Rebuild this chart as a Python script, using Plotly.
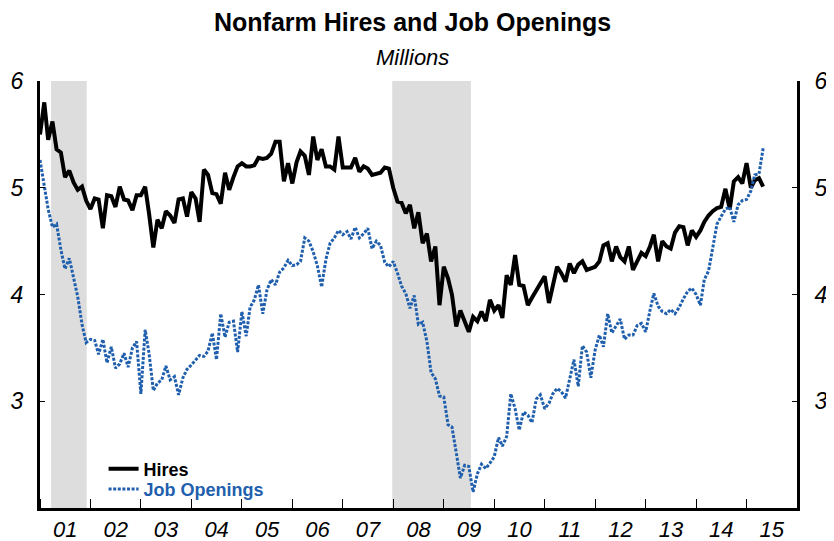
import pandas as pd
import plotly.graph_objects as go

start_month = "2001-01-01"
hires = [
    5.50, 5.80, 5.45, 5.62, 5.36, 5.33, 5.10, 5.16, 5.05, 4.98,
    5.01, 4.88, 4.80, 4.90, 4.89, 4.62, 4.93, 4.92, 4.82, 5.01,
    4.89, 4.88, 4.79, 4.93, 4.93, 5.01, 4.76, 4.44, 4.70, 4.62,
    4.78, 4.74, 4.67, 4.89, 4.90, 4.73, 4.96, 4.90, 4.68, 5.17,
    5.12, 4.95, 4.94, 4.85, 5.14, 4.98, 5.10, 5.20, 5.23, 5.20,
    5.20, 5.21, 5.28, 5.27, 5.28, 5.32, 5.43, 5.43, 5.06, 5.23,
    5.04, 5.24, 5.34, 5.30, 5.12, 5.48, 5.26, 5.36, 5.20, 5.20,
    5.17, 5.48, 5.19, 5.19, 5.19, 5.28, 5.15, 5.20, 5.18, 5.12,
    5.13, 5.14, 5.19, 5.18, 5.00, 4.87, 4.86, 4.76, 4.84, 4.62,
    4.77, 4.48, 4.57, 4.31, 4.45, 3.90, 4.26, 4.15, 4.00, 3.70,
    3.85, 3.75, 3.65, 3.79, 3.75, 3.84, 3.75, 3.95, 3.85, 3.90,
    3.78, 4.18, 4.09, 4.37, 4.09, 4.08, 3.90, 3.97, 4.04, 4.10,
    4.17, 3.92, 4.10, 4.26, 4.20, 4.12, 4.29, 4.20, 4.28, 4.31,
    4.23, 4.24, 4.26, 4.31, 4.46, 4.48, 4.31, 4.45, 4.35, 4.31,
    4.45, 4.23, 4.32, 4.39, 4.36, 4.45, 4.56, 4.31, 4.50, 4.45,
    4.43, 4.58, 4.64, 4.63, 4.46, 4.60, 4.54, 4.60, 4.68, 4.74,
    4.78, 4.81, 4.82, 4.99, 4.80, 5.06, 5.10, 5.04, 5.23, 5.00,
    5.07, 5.09, 5.01,
]
job_openings = [
    5.26, 5.00, 4.80, 4.63, 4.66, 4.42, 4.24, 4.34, 4.14, 3.98,
    3.72, 3.55, 3.58, 3.57, 3.44, 3.58, 3.36, 3.51, 3.31, 3.35,
    3.45, 3.32, 3.50, 3.56, 3.07, 3.67, 3.45, 3.10, 3.17, 3.20,
    3.33, 3.20, 3.23, 3.06, 3.22, 3.30, 3.34, 3.39, 3.43, 3.42,
    3.47, 3.64, 3.39, 3.82, 3.60, 3.74, 3.75, 3.46, 3.84, 3.61,
    3.88, 3.95, 4.09, 3.82, 4.04, 4.14, 4.09, 4.21, 4.25, 4.32,
    4.27, 4.28, 4.31, 4.53, 4.50, 4.40, 4.27, 4.07, 4.33, 4.48,
    4.53, 4.60, 4.56, 4.59, 4.52, 4.63, 4.53, 4.57, 4.62, 4.43,
    4.50, 4.46, 4.30, 4.26, 4.31, 4.20, 4.08, 4.01, 3.87, 3.99,
    3.72, 3.74, 3.56, 3.27, 3.21, 3.05, 3.04, 2.78, 2.76, 2.52,
    2.28, 2.40, 2.39, 2.15, 2.32, 2.41, 2.37, 2.42, 2.48, 2.66,
    2.58, 2.67, 3.07, 2.93, 2.73, 2.90, 2.87, 2.80, 3.02, 3.06,
    2.93, 2.98, 3.07, 3.12, 3.09, 3.03, 3.21, 3.39, 3.14, 3.52,
    3.46, 3.22, 3.48, 3.62, 3.51, 3.82, 3.64, 3.71, 3.77, 3.58,
    3.62, 3.62, 3.71, 3.73, 3.65, 3.85, 4.01, 3.89, 3.84, 3.82,
    3.86, 3.82, 3.88, 3.96, 4.03, 4.06, 4.00, 3.90, 4.14, 4.22,
    4.45, 4.66, 4.73, 4.80, 4.82, 4.68, 4.84, 4.88, 4.89, 4.97,
    5.12, 5.13, 5.37,
]
recession_starts = ["2001-03-22", "2007-12-25"]
recession_ends = ["2001-12-05", "2009-07-16"]
y_ticks = [3, 4, 5, 6]
x_range = ["2001-01-01", "2016-01-01"]
y_range = [2, 6]

dates = pd.date_range(start_month, periods=len(hires), freq="MS")

BLACK = "#000000"
BLUE = "#1f5fae"
FONT = "Liberation Sans, Arial, sans-serif"

fig = go.Figure()
fig.add_trace(go.Scatter(
    x=dates, y=hires, mode="lines", name="<b>Hires</b>",
    line=dict(color=BLACK, width=4), legend="legend", yaxis="y",
))
fig.add_trace(go.Scatter(
    x=dates, y=job_openings, mode="lines",
    name="<b><span style='color:%s'>Job Openings</span></b>" % BLUE,
    line=dict(color=BLUE, width=3, dash="3px,1.6px"), legend="legend2", yaxis="y2",
))

for s, e in zip(recession_starts, recession_ends):
    fig.add_shape(type="rect", xref="x", yref="paper", x0=s, x1=e, y0=0, y1=1,
                  fillcolor="#dcdddc", line_width=0, layer="below")

axis_font = dict(family=FONT, size=23, color="black", style="italic")
leg_font = dict(family=FONT, size=18, color="black")

# The page body adds an 8px offset, so the figure is drawn 8px smaller
fig.update_layout(
    width=826, height=533,
    margin=dict(l=32, r=37, t=73, b=33, autoexpand=False),
    paper_bgcolor="white", plot_bgcolor="white",
    font=dict(family=FONT, color="black"),
    showlegend=True,
    legend=dict(x=0.084, y=0.091, xanchor="left", yanchor="middle",
                bgcolor="rgba(0,0,0,0)", font=leg_font, itemwidth=30),
    legend2=dict(x=0.084, y=0.044, xanchor="left", yanchor="middle",
                 bgcolor="rgba(0,0,0,0)", font=leg_font, itemwidth=30),
    xaxis=dict(
        type="date", range=x_range, dtick="M12", tick0="2001-01-01",
        tickformat="%y", ticklabelmode="period", automargin=False,
        ticks="inside", ticklen=9, tickwidth=1.2, tickcolor="black",
        showline=True, linewidth=3, linecolor="black",
        showgrid=False, zeroline=False,
        tickfont=dict(family=FONT, size=22, color="black", style="italic"),
    ),
    yaxis=dict(
        range=y_range, tickvals=y_ticks, ticks="inside", ticklen=5,
        tickwidth=1.2, tickcolor="black", automargin=False,
        showline=True, linewidth=3, linecolor="black",
        showgrid=False, zeroline=False, tickfont=axis_font, ticklabelstandoff=9,
    ),
    yaxis2=dict(
        range=y_range, tickvals=y_ticks, ticks="inside", ticklen=5,
        tickwidth=1.2, tickcolor="black", overlaying="y", side="right",
        automargin=False,
        showline=True, linewidth=3, linecolor="black",
        showgrid=False, zeroline=False, tickfont=axis_font, ticklabelstandoff=10,
    ),
    annotations=[
        dict(text="<b>Nonfarm Hires and Job Openings</b>", xref="paper", yref="paper",
             x=0.492, y=1.138, xanchor="center", yanchor="middle", showarrow=False,
             font=dict(family=FONT, size=25, color="black")),
        dict(text="<i>Millions</i>", xref="paper", yref="paper",
             x=0.492, y=1.054, xanchor="center", yanchor="middle", showarrow=False,
             font=dict(family=FONT, size=22, color="black")),
    ],
)

fig.write_html("out.html")
